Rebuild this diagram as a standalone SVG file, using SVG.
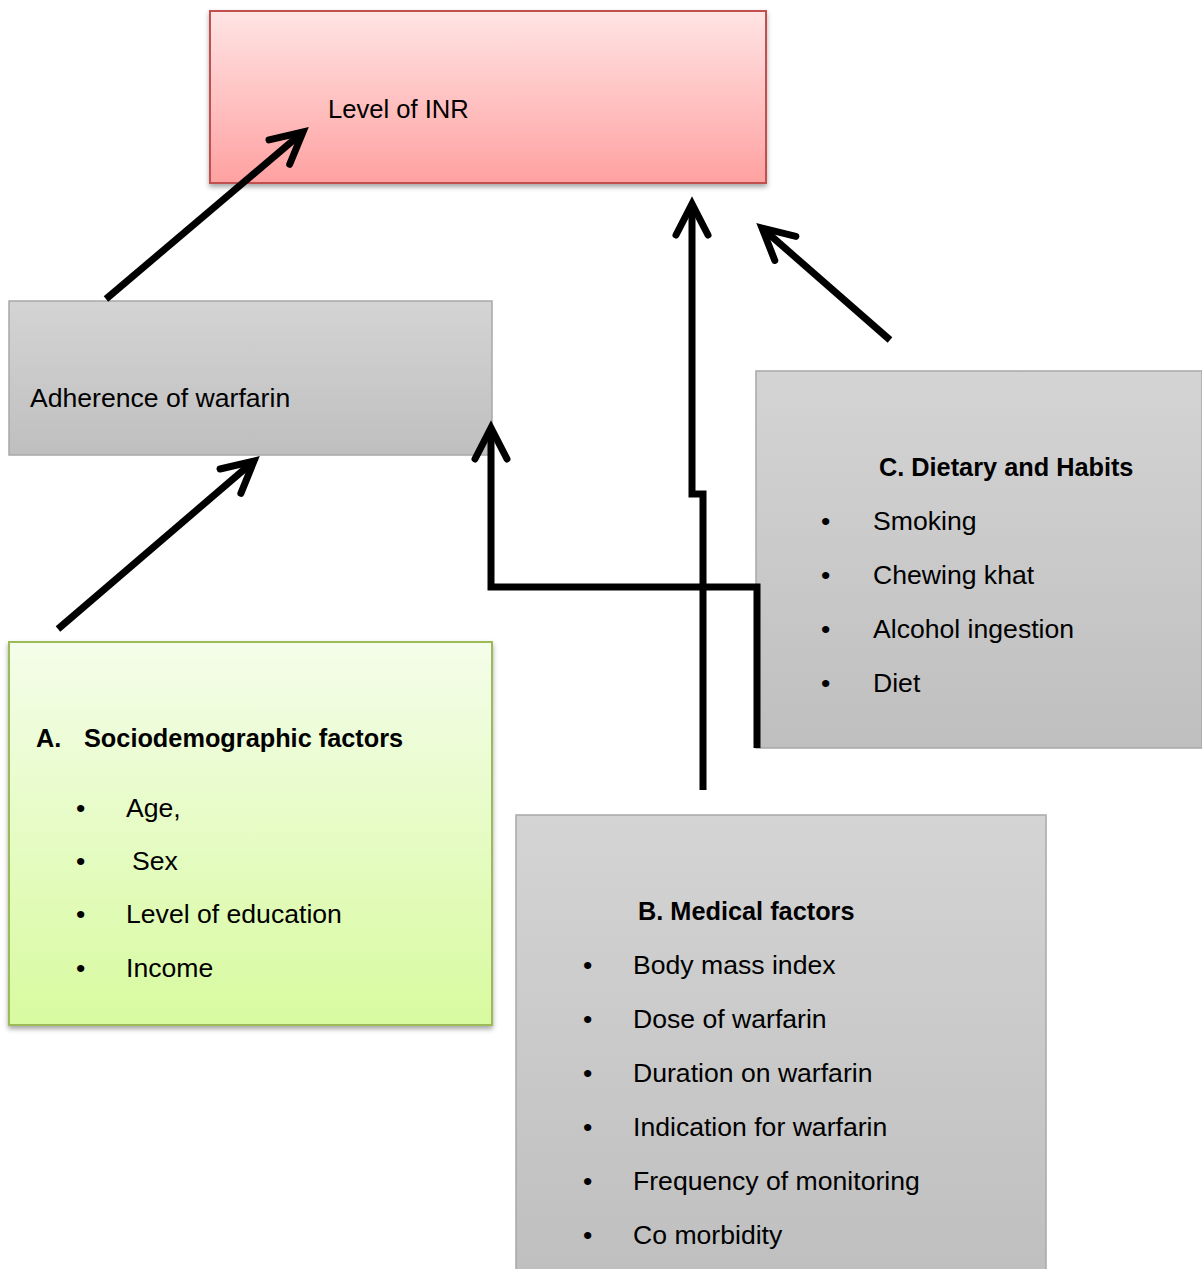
<svg xmlns="http://www.w3.org/2000/svg" width="1202" height="1269" viewBox="0 0 1202 1269">
<defs>
<linearGradient id="gRed" x1="0" y1="0" x2="0" y2="1"><stop offset="0" stop-color="#ffe4e4"/><stop offset="1" stop-color="#ffa1a1"/></linearGradient>
<linearGradient id="gGray" x1="0" y1="0" x2="0" y2="1"><stop offset="0" stop-color="#d4d4d4"/><stop offset="1" stop-color="#bfbfbf"/></linearGradient>
<linearGradient id="gGreen" x1="0" y1="0" x2="0" y2="1"><stop offset="0" stop-color="#f4fdea"/><stop offset="1" stop-color="#d8fa9f"/></linearGradient>
<filter id="sh" x="-5%" y="-5%" width="110%" height="120%"><feDropShadow dx="0" dy="3" stdDeviation="2.5" flood-color="#000" flood-opacity="0.35"/></filter>
<marker id="ah" markerUnits="userSpaceOnUse" markerWidth="80" markerHeight="80" viewBox="-40 -40 80 80" refX="0" refY="0" orient="auto" overflow="visible">
<path d="M-31,-16 L0,0 L-31,16" fill="none" stroke="#000" stroke-width="7" stroke-linecap="round" stroke-linejoin="miter"/>
</marker>
<style>
text{font-family:"Liberation Sans",Arial,sans-serif;fill:#000;font-size:26.6px}
.b{font-weight:bold;font-size:25.3px}
.conn{fill:none;stroke:#000;stroke-width:7;stroke-linejoin:miter;marker-end:url(#ah)}
</style>
</defs>
<rect width="1202" height="1269" fill="#fff"/>
<g id="node-inr">
<rect x="210" y="11" width="556" height="172" fill="url(#gRed)" stroke="#c0504d" stroke-width="2" filter="url(#sh)"/>
<text x="328" y="118" style="font-size:25.6px">Level of INR</text>
</g>
<g id="node-adherence">
<rect x="9" y="301" width="483" height="154" fill="url(#gGray)" stroke="#a8a8a8" stroke-width="1.5"/>
<text x="30" y="407">Adherence of warfarin</text>
</g>
<g id="node-a">
<rect x="9" y="642" width="483" height="383" fill="url(#gGreen)" stroke="#9bbb59" stroke-width="2" filter="url(#sh)"/>
<text class="b" x="36" y="747">A.</text>
<text class="b" x="84" y="747">Sociodemographic factors</text>
<text x="76" y="817">•</text><text x="126" y="817">Age,</text>
<text x="76" y="870">•</text><text x="132" y="870">Sex</text>
<text x="76" y="923">•</text><text x="126" y="923">Level of education</text>
<text x="76" y="977">•</text><text x="126" y="977">Income</text>
</g>
<g id="node-b">
<rect x="516" y="815" width="530" height="460" fill="url(#gGray)" stroke="#a8a8a8" stroke-width="1.5"/>
<text class="b" x="638" y="920">B. Medical factors</text>
<text x="583" y="974">•</text><text x="633" y="974">Body mass index</text>
<text x="583" y="1028">•</text><text x="633" y="1028">Dose of warfarin</text>
<text x="583" y="1082">•</text><text x="633" y="1082">Duration on warfarin</text>
<text x="583" y="1136">•</text><text x="633" y="1136">Indication for warfarin</text>
<text x="583" y="1190">•</text><text x="633" y="1190">Frequency of monitoring</text>
<text x="583" y="1244">•</text><text x="633" y="1244">Co morbidity</text>
</g>
<g id="node-c">
<rect x="756" y="371" width="446" height="377" fill="url(#gGray)" stroke="#a8a8a8" stroke-width="1.5"/>
<text class="b" x="879" y="476">C. Dietary and Habits</text>
<text x="821" y="530">•</text><text x="873" y="530">Smoking</text>
<text x="821" y="584">•</text><text x="873" y="584">Chewing khat</text>
<text x="821" y="638">•</text><text x="873" y="638">Alcohol ingestion</text>
<text x="821" y="692">•</text><text x="873" y="692">Diet</text>
</g>
<g id="connectors">
<path class="conn" d="M106,299 L303,132"/>
<path class="conn" d="M58,629 L254,461"/>
<path class="conn" d="M890,340 L762,228"/>
<path class="conn" d="M703,790 V494 H692 V204"/>
<path class="conn" d="M757,748 V587 H491 V428"/>
</g>
</svg>
